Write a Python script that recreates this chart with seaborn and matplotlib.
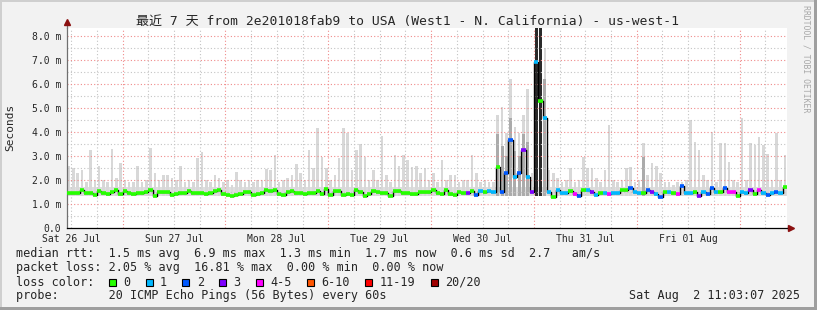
import numpy as np
import pandas as pd
import matplotlib
matplotlib.use("Agg")
import matplotlib.pyplot as plt
import seaborn as sns
from matplotlib.patches import Rectangle
from matplotlib.lines import Line2D

# ---------------- data (hourly bins, 7 days back from Sat Aug 2 11:03) ----------------
title = "最近 7 天 from 2e201018fab9 to USA (West1 - N. California) - us-west-1"
day_labels = ["Sat 26 Jul", "Sun 27 Jul", "Mon 28 Jul", "Tue 29 Jul",
              "Wed 30 Jul", "Thu 31 Jul", "Fri 01 Aug"]
ytick_labels = ["0.0", "1.0 m", "2.0 m", "3.0 m", "4.0 m", "5.0 m", "6.0 m", "7.0 m", "8.0 m"]

median_rtt = [
    1.44, 1.44, 1.46, 1.60, 1.47, 1.46, 1.38, 1.55, 1.45, 1.42,
    1.50, 1.58, 1.40, 1.56, 1.44, 1.40, 1.46, 1.44, 1.52, 1.60,
    1.34, 1.50, 1.52, 1.50, 1.38, 1.40, 1.45, 1.45, 1.55, 1.46,
    1.44, 1.46, 1.42, 1.47, 1.55, 1.60, 1.42, 1.36, 1.32, 1.38,
    1.40, 1.48, 1.48, 1.38, 1.40, 1.45, 1.58, 1.56, 1.60, 1.42,
    1.38, 1.50, 1.55, 1.45, 1.44, 1.42,
    1.44, 1.45, 1.55, 1.40, 1.62, 1.38, 1.56, 1.55, 1.38, 1.40,
    1.36, 1.58, 1.52, 1.35, 1.40, 1.55, 1.52, 1.44, 1.44, 1.32,
    1.56, 1.55, 1.45, 1.44, 1.42, 1.40, 1.50, 1.52, 1.50, 1.58,
    1.45, 1.42, 1.60, 1.40, 1.38, 1.48, 1.46, 1.47, 1.55, 1.38,
    1.55, 1.52, 1.54, 1.52, 2.56, 1.50, 2.31, 3.67, 2.14, 2.31,
    3.25, 2.14, 1.52, 6.90, 5.30, 4.60,
    1.50, 1.31, 1.58, 1.44, 1.44, 1.56, 1.40, 1.32, 1.60, 1.58,
    1.52, 1.38, 1.46, 1.44, 1.40, 1.44, 1.44, 1.58, 1.60, 1.68,
    1.52, 1.44, 1.44, 1.58, 1.52, 1.40, 1.30, 1.52, 1.50, 1.44,
    1.40, 1.75, 1.44, 1.46, 1.50, 1.35, 1.52, 1.40, 1.65, 1.48,
    1.50, 1.65, 1.52, 1.50, 1.32, 1.48, 1.44, 1.58, 1.40, 1.58,
    1.44, 1.38, 1.46, 1.52, 1.44, 1.72,
]

smoke_hi = [
    2.60, 2.50, 2.30, 2.40, 1.90, 3.25, 2.00, 2.60, 2.00, 1.90,
    3.30, 2.10, 2.70, 2.00, 1.90, 1.90, 2.60, 1.90, 2.00, 3.35,
    2.30, 2.00, 2.20, 2.20, 2.10, 2.00, 2.60, 1.90, 2.00, 1.90,
    2.90, 3.15, 2.00, 1.90, 2.20, 2.10, 1.90, 2.00, 1.80, 2.35,
    2.00, 1.90, 2.00, 1.90, 2.00, 2.00, 2.45, 2.40, 3.05, 1.90,
    2.00, 2.10, 2.20, 2.65, 2.30, 2.00,
    3.25, 2.48, 4.15, 2.97, 2.50, 2.00, 2.20, 2.90, 4.15, 3.94,
    2.40, 3.25, 3.50, 2.97, 2.00, 2.40, 2.00, 3.83, 2.20, 1.90,
    3.04, 2.60, 3.04, 2.83, 2.56, 2.60, 2.30, 2.48, 2.00, 2.30,
    1.90, 2.83, 2.00, 2.20, 2.20, 1.90, 2.00, 2.00, 3.04, 2.30,
    1.90, 2.00, 1.90, 1.90, 4.70, 5.05, 3.94, 6.20, 4.22, 3.94,
    4.70, 5.80, 2.30, 8.60, 8.60, 7.50,
    2.40, 2.30, 2.10, 1.90, 2.00, 2.48, 1.90, 2.00, 2.97, 2.48,
    2.48, 2.10, 1.90, 2.40, 4.29, 2.00, 1.90, 2.00, 2.48, 2.56,
    1.90, 2.00, 3.53, 2.20, 2.70, 2.60, 2.30, 1.90, 1.90, 1.80,
    1.90, 1.90, 2.00, 4.50, 3.60, 3.25, 2.20, 2.00, 4.00, 1.90,
    3.53, 3.53, 2.77, 2.00, 1.90, 4.57, 2.00, 3.53, 3.47, 3.80,
    3.47, 3.10, 2.00, 3.94, 2.00, 3.04,
]

# darker smoke (denser pings) in the disturbed period
smoke_mid_hours = [100, 101, 102, 103, 104, 105, 106, 107, 109, 110, 111, 134]
smoke_mid_values = [3.90, 3.40, 3.00, 4.60, 3.20, 3.00, 3.90, 3.60, 8.60, 8.60, 6.20, 2.97]
smoke_dark_hours = [109, 110]
smoke_dark_values = [8.60, 8.60]
smoke_floor = 1.32
smoke_band_top = 1.72

# loss bucket per hour: 0 -> "0", 1 -> "1", 2 -> "2", 3 -> "3", 4 -> "4-5"
loss_bucket = [
    0, 0, 0, 0, 0, 0, 0, 0, 0, 0, 0, 0, 0, 0, 0, 0, 0, 0, 0, 0,
    0, 0, 0, 0, 0, 0, 0, 0, 0, 0, 0, 0, 0, 0, 0, 0, 0, 0, 0, 0,
    0, 0, 0, 0, 0, 0, 0, 0, 0, 0, 0, 0, 0, 0, 0, 0, 0, 0, 0, 0,
    0, 0, 0, 0, 0, 0, 0, 0, 0, 0, 0, 0, 0, 0, 0, 0, 0, 0, 0, 0,
    0, 0, 0, 0, 0, 0, 0, 0, 0, 0, 0, 0, 0,
    3, 0, 2, 1, 0, 1, 1, 0, 2, 2, 2, 1, 2, 3, 1, 3, 1, 0, 1,
    1, 0, 1, 1, 1, 0, 4, 2, 0, 1,
    3, 1, 0, 1, 4, 1, 1, 0, 0, 2,
    1, 1, 0, 2, 3, 1, 2, 0, 1, 0,
    4, 2, 1, 1, 0, 3, 1, 2, 2, 1,
    0, 2, 4, 4, 0, 1, 1, 3, 0, 4,
    1, 2, 1, 2, 1, 0,
]

loss_labels = ["0", "1", "2", "3", "4-5", "6-10", "11-19", "20/20"]
loss_colors = ["#26ff00", "#00b8ff", "#0059ff", "#7e00ff", "#ff00ff", "#ff5500", "#ff0000", "#a00000"]

stats_rtt = "median rtt:  1.5 ms avg  6.9 ms max  1.3 ms min  1.7 ms now  0.6 ms sd  2.7   am/s"
stats_loss = "packet loss: 2.05 % avg  16.81 % max  0.00 % min  0.00 % now"
probe_text = "probe:       20 ICMP Echo Pings (56 Bytes) every 60s"
stamp_text = "Sat Aug  2 11:03:07 2025"
watermark = "RRDTOOL / TOBI OETIKER"

# ---------------- figure ----------------
sns.set_style("white")
plt.rcParams["font.family"] = ["DejaVu Sans Mono", "Noto Sans CJK SC"]

W, H = 817, 310
fig = plt.figure(figsize=(W / 100, H / 100), dpi=100, facecolor="#f2f2f2")


def fx(px):
    return px / W


def fy(py):
    return 1 - py / H


ax = fig.add_axes([fx(67), fy(228), 720 / W, 200 / H])
ax.set_facecolor("white")
n = len(median_rtt)
hours = np.arange(n)
ax.set_xlim(0, n)
ax.set_ylim(0, 200 / 24)

# smoke
ax.bar(hours, smoke_band_top - smoke_floor, bottom=smoke_floor, width=1.0, align="edge",
       color="#dedede", linewidth=0, zorder=1)
ax.bar(hours + 0.2, np.array(smoke_hi) - smoke_floor, bottom=smoke_floor, width=0.6,
       align="edge", color="#d8d8d8", linewidth=0, zorder=1)
ax.bar(np.array(smoke_mid_hours) + 0.15, np.array(smoke_mid_values) - smoke_floor,
       bottom=smoke_floor, width=0.7, align="edge", color="#ababab", linewidth=0, zorder=1.5)
ax.bar(np.array(smoke_dark_hours) + 0.2, np.array(smoke_dark_values) - smoke_floor,
       bottom=smoke_floor, width=0.6, align="edge", color="#2a2a2a", linewidth=0, zorder=1.6)

# grid (drawn over the smoke as rrdtool does)
start_offset = 12.95  # first midnight (Sun 00:00) in hours from start
grid_x = np.arange(start_offset - 12, n, 6)
for gx in grid_x:
    is_major = abs(((gx - start_offset) / 24) - round((gx - start_offset) / 24)) < 1e-6
    ax.axvline(gx, color="#f08a8a" if is_major else "#c4c4c4", lw=0.8,
               ls=(0, (1, 2)), zorder=2)
for gy in np.arange(0.5, 8.4, 0.5):
    is_major = abs(gy - round(gy)) < 1e-6
    ax.axhline(gy, color="#f08a8a" if is_major else "#c4c4c4", lw=0.8,
               ls=(0, (1, 2)), zorder=2)

# median line: black step with loss-coloured plateaus
df = pd.DataFrame({"hour": np.append(hours, n), "median": median_rtt + [median_rtt[-1]]})
sns.lineplot(data=df, x="hour", y="median", drawstyle="steps-post", color="black",
             lw=1.0, ax=ax, zorder=4)
ax.hlines(median_rtt, hours, hours + 1, colors=[loss_colors[b] for b in loss_bucket],
          lw=2.6, zorder=5)

# axes styling
ax.set_xlabel("")
ax.set_ylabel("")
for s in ["top", "right"]:
    ax.spines[s].set_visible(False)
ax.spines["left"].set_color("#707070")
ax.spines["left"].set_linewidth(0.9)
ax.spines["bottom"].set_color("black")
ax.spines["bottom"].set_linewidth(0.9)

noon = start_offset - 12 + 24 * np.arange(len(day_labels))
ax.set_xticks(noon)
ax.set_xticklabels(day_labels, fontsize=7)
ax.set_xticks(grid_x, minor=True)
ax.set_yticks(np.arange(0, 9))
ax.set_yticklabels(ytick_labels, fontsize=7)
ax.set_yticks(np.arange(0.5, 8.4, 1.0), minor=True)
ax.tick_params(axis="both", which="both", direction="out", length=2, width=0.7,
               color="#707070", pad=2)
ax.tick_params(axis="x", which="major", pad=2.5)

# axis arrows
ax.add_line(Line2D([0, 0], [1, 1.03], transform=ax.transAxes, color="#707070",
                   lw=0.9, clip_on=False))
ax.plot([0], [1.03], marker="^", ms=4.5, color="#8b1010", transform=ax.transAxes,
        clip_on=False, zorder=10)
ax.add_line(Line2D([1, 1.005], [0, 0], transform=ax.transAxes, color="black",
                   lw=0.9, clip_on=False))
ax.plot([1.006], [0], marker=">", ms=4.5, color="#8b1010", transform=ax.transAxes,
        clip_on=False, zorder=10)

# texts
fig.text(fx(408), fy(21), title, fontsize=9.4, ha="center", va="center",
         family=["DejaVu Sans Mono", "Noto Sans CJK SC"])
fig.text(fx(10), fy(127), "Seconds", fontsize=8, rotation=90, ha="center", va="center")
fig.text(fx(806), fy(59), watermark, fontsize=5.9, rotation=270, ha="center", va="center",
         color="#a8a8a8")

fig.text(fx(16), fy(254), stats_rtt, fontsize=8.5, ha="left", va="center")
fig.text(fx(16), fy(268), stats_loss, fontsize=8.5, ha="left", va="center")
fig.text(fx(16), fy(282), "loss color:", fontsize=8.5, ha="left", va="center")
fig.text(fx(16), fy(296), probe_text, fontsize=8.5, ha="left", va="center")
fig.text(fx(800), fy(296), stamp_text, fontsize=8.5, ha="right", va="center")

char_w = 7.13
bx = 108.7
for lab, col in zip(loss_labels, loss_colors):
    fig.patches.append(Rectangle((fx(bx), fy(285.5)), 7 / W, 7 / H, transform=fig.transFigure,
                                 facecolor=col, edgecolor="black", lw=0.8))
    lx = bx + 14.3
    fig.text(fx(lx), fy(282), lab, fontsize=8.5, ha="left", va="center")
    bx = lx + len(lab) * char_w + 15.4

# 3D frame
fig.patches.append(Rectangle((0, fy(2)), 1, 2 / H, transform=fig.transFigure,
                             facecolor="#cfcfcf", lw=0))
fig.patches.append(Rectangle((0, 0), 2 / W, 1, transform=fig.transFigure,
                             facecolor="#cfcfcf", lw=0))
fig.patches.append(Rectangle((0, 0), 1, 3 / H, transform=fig.transFigure,
                             facecolor="#9f9f9f", lw=0))
fig.patches.append(Rectangle((fx(814), 0), 3 / W, 1, transform=fig.transFigure,
                             facecolor="#9f9f9f", lw=0))

fig.savefig("out.png", dpi=100, facecolor=fig.get_facecolor())
